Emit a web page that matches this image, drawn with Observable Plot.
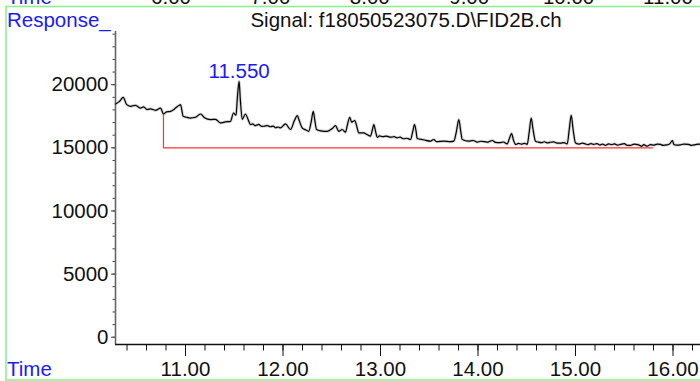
<!DOCTYPE html>
<html><head><meta charset="utf-8">
<script src="https://cdn.jsdelivr.net/npm/d3@7"></script>
<script src="https://cdn.jsdelivr.net/npm/@observablehq/plot@0.6"></script>
<style>
body{margin:0;background:#fff;}
#wrap{position:relative;width:700px;height:381px;overflow:hidden;font-family:"Liberation Sans",Arial,sans-serif;}
#wrap svg{position:absolute;left:0;top:0;}
</style></head><body><div id="wrap"></div>
<script>
// Chromatogram trace (time in min, response)
const time = [
10.282,10.323,10.361,10.395,10.436,10.487,10.538,10.569,10.607,10.641,10.692,10.744,10.774,10.805,10.846,10.877,10.897,10.928,10.949,10.976,
11.010,11.051,11.103,11.154,11.195,11.256,11.308,11.359,11.410,11.462,11.492,11.518,11.533,11.550,11.562,11.582,11.615,11.641,11.667,
11.690,11.710,11.728,11.750,11.780,11.803,11.840,11.872,11.900,11.923,11.950,11.974,
12.026,12.077,12.118,12.146,12.169,12.197,12.231,12.264,12.290,12.310,12.328,12.344,12.385,12.453,12.508,12.538,
12.572,12.607,12.641,12.662,12.685,12.703,12.720,12.736,12.759,12.777,12.828,12.856,12.897,12.918,12.931,12.949,12.967,
12.990,13.021,13.060,13.103,13.140,13.171,13.200,13.236,13.270,13.308,
13.331,13.349,13.365,13.376,13.441,13.513,13.547,13.574,13.649,13.718,13.752,13.779,13.803,13.823,13.838,13.903,13.950,13.992,14.030,14.067,
14.100,14.146,14.180,14.221,14.260,14.299,14.323,14.344,14.364,14.385,14.415,14.446,14.475,14.505,14.526,14.546,14.564,14.590,14.620,14.651,14.680,14.710,14.740,14.777,14.810,14.846,14.880,14.915,14.936,14.956,
14.975,15.000,15.040,15.070,15.092,15.130,15.160,15.188,15.220,15.250,15.277,15.310,15.340,15.369,15.400,15.430,15.462,15.500,15.530,15.564,
15.600,15.646,15.680,15.700,15.735,15.770,15.800,15.840,15.872,15.900,15.933,15.965,15.995,16.008,16.040,16.077,16.110,16.159,16.190,16.231,16.260,16.282];
const response = [
18470,18680,19000,18445,18290,18370,18150,18250,18030,18090,17970,18150,17680,17850,17890,18010,18150,18330,18420,17500,
17420,17360,17420,17680,17380,17240,17260,16970,17060,17100,17760,17580,19080,20260,18840,17260,17680,17260,16840,
16900,16760,16790,16850,16700,16710,16760,16670,16720,16590,16650,16580,
16890,16450,17180,17550,17100,16580,16430,16310,17100,17890,17100,16450,16350,16310,16550,16760,
16310,16450,16240,16870,17420,17030,17100,17160,16630,16180,16180,16080,15920,16470,16840,16310,15830,
15950,15880,15930,15840,15880,15790,15850,15720,15760,15660,
16310,16840,16310,15740,15640,15530,15660,15490,15530,15490,15530,16310,17240,16310,15660,15530,15580,15450,15520,15490,
15450,15580,15430,15410,15460,15310,15760,16130,15600,15270,15350,15290,15360,15270,16310,17360,16470,15530,15450,15410,15480,15390,15440,15470,15380,15370,15420,15310,16470,17580,
16470,15390,15300,15380,15330,15250,15340,15270,15330,15220,15300,15200,15310,15250,15320,15210,15270,15330,15200,15190,
15290,15240,15120,15250,15130,15260,15210,15300,15270,15200,15230,15300,15580,15270,15210,15240,15300,15270,15200,15250,15300,15270];

// Integration baseline (red)
const baselineTime = [10.774, 10.774, 15.79];
const baselineResp = [17680, 15000, 15000];

// Peak annotation
const peakTime = [11.55];
const peakResp = [20260];
const peakLabel = ["11.550"];

// Axes
const xDomain = [10.282, 16.282];
const yDomain = [-576, 24213];
const xTicks = [11, 12, 13, 14, 15, 16];
const xMinor = d3.range(10.4, 16.25, 0.2).map(d => +d.toFixed(1));
const yTicks = [0, 5000, 10000, 15000, 20000];
const yMinor = d3.range(0, 24001, 1000);

// Cut-off tick labels of the panel above
const prevTicks = [6, 7, 8, 9, 10, 11];
const prevTickLabels = ["6.00", "7.00", "8.00", "9.00", "10.00", "11.00"];

const titleText = "Signal: f18050523075.D\\FID2B.ch";
const yTitle = "Response_";
const xTitle = "Time";

const FS = 20.5;
const font = "Liberation Sans, Arial, sans-serif";
const blue = "#1a1aff";

const trace = time.map((t, i) => ({t, v: response[i]}));
const base = baselineTime.map((t, i) => ({t, v: baselineResp[i]}));
const peaks = peakTime.map((t, i) => ({t, v: peakResp[i], label: peakLabel[i]}));

const chart = Plot.plot({
  width: 700, height: 381,
  marginLeft: 115, marginRight: 0, marginTop: 31, marginBottom: 37,
  x: {domain: xDomain},
  y: {domain: yDomain},
  style: {fontFamily: font, fontSize: FS + "px", color: "#111", background: "transparent", overflow: "visible"},
  marks: [
    Plot.axisY(yMinor, {tickSize: 2.5, tickFormat: () => "", label: null, stroke: "#444"}),
    Plot.axisY(yTicks, {tickSize: 4, tickPadding: 3, tickFormat: d => String(d), label: null, stroke: "#444", fill: "#111", fontSize: FS}),
    Plot.axisX(xMinor, {tickSize: 6.5, tickFormat: () => "", label: null, stroke: "#111"}),
    Plot.axisX(xTicks, {tickSize: 12, tickPadding: 5, tickFormat: d3.format(".2f"), label: null, stroke: "#111", fill: "#111", fontSize: FS}),
    Plot.ruleX([xDomain[0]], {stroke: "#666", strokeWidth: 1.6}),
    Plot.ruleY([yDomain[0]], {stroke: "#111", strokeWidth: 1.3}),
    Plot.line(base, {x: "t", y: "v", stroke: "#ff3030", strokeWidth: 1.2}),
    Plot.line(trace, {x: "t", y: "v", curve: "monotone-x", stroke: "#999", strokeWidth: 3, strokeOpacity: 0.45}),
    Plot.line(trace, {x: "t", y: "v", curve: "monotone-x", stroke: "#000", strokeWidth: 1.2}),
    Plot.text(peaks, {x: "t", y: "v", text: "label", lineAnchor: "bottom", dy: -3, fill: blue, fontSize: FS})
  ]
});

const wrap = document.getElementById("wrap");
wrap.appendChild(chart);

// Overlay: frame, titles and the cut-off panel above
const ov = d3.select(wrap).append("svg")
  .attr("width", 700).attr("height", 381)
  .style("font-family", font).style("font-size", FS + "px");
ov.append("rect").attr("x", 6).attr("y", 6.5).attr("width", 720).attr("height", 373.5)
  .attr("fill", "none").attr("stroke", "#90ee90").attr("stroke-width", 1.6);
const px = d3.scaleLinear([6, 11], [171, 668]);
ov.append("text").attr("x", 7).attr("y", 4).attr("fill", blue).text(xTitle);
ov.selectAll("text.prev").data(prevTicks).join("text").attr("class", "prev")
  .attr("x", d => px(d)).attr("y", 4).attr("text-anchor", "middle").attr("fill", "#111")
  .text((d, i) => prevTickLabels[i]);
ov.append("text").attr("x", 7).attr("y", 27).attr("fill", blue).text(yTitle);
ov.append("text").attr("x", 406).attr("y", 27).attr("text-anchor", "middle").attr("fill", "#111").text(titleText);
ov.append("text").attr("x", 7).attr("y", 376).attr("fill", blue).text(xTitle);
</script>
</body></html>
